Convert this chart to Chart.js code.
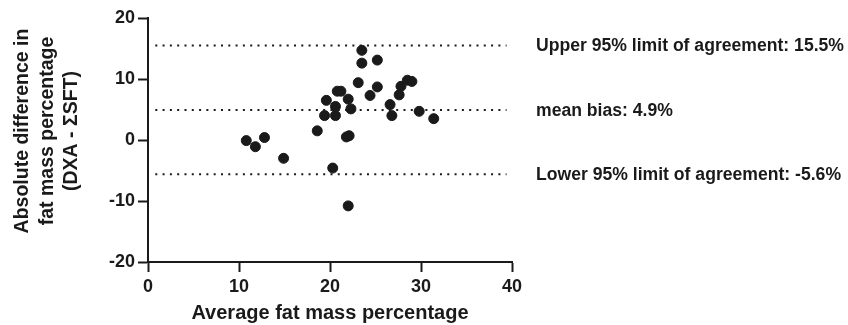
<!DOCTYPE html>
<html>
<head>
<meta charset="utf-8">
<script src="https://cdn.jsdelivr.net/npm/chart.js@4"></script>
<style>
  html, body { margin: 0; padding: 0; background: #fff; }
  #wrap { width: 848px; height: 325px; }
</style>
</head>
<body>
<div id="wrap"><canvas id="bland" width="848" height="325"></canvas></div>
<script>
// Bland-Altman data
const avgFat = [10.8, 11.8, 12.8, 14.9, 18.6, 19.6, 19.4, 20.3, 20.6, 20.6, 20.8, 21.2, 22.0, 22.3, 21.8, 22.1,
                22.0, 23.1, 23.5, 23.5, 24.4, 25.2, 25.2, 26.6, 26.8, 27.6, 27.8, 28.5, 29.0, 29.8, 31.4];
const diffFat = [-0.1, -1.1, 0.4, -3.0, 1.5, 6.5, 4.0, -4.6, 4.0, 5.5, 8.0, 8.0, 6.7, 5.1, 0.5, 0.7,
                 -10.8, 9.4, 14.7, 12.6, 7.3, 13.1, 8.7, 5.8, 4.0, 7.4, 8.8, 9.8, 9.6, 4.7, 3.5];

// agreement lines
const limitValues = [15.5, 4.9, -5.6];
const limitLabels = ["Upper 95% limit of agreement: 15.5%", "mean bias: 4.9%", "Lower 95% limit of agreement: -5.6%"];
const limitSpan = [0.8, 39.4];

const xTitle = "Average fat mass percentage";
const yTitle = ["Absolute difference in", "fat mass percentage", "(DXA - \u03A3SFT)"];

const FONT = "'Liberation Sans', Arial, sans-serif";
const INK = "#1a1a1a";

// line datasets for the dotted limits
const limitSets = limitValues.map(v => ({
    type: "line",
    data: limitSpan.map(x => ({ x: x, y: v })),
    borderColor: INK,
    borderWidth: 2,
    borderDash: [2, 5.3],
    pointRadius: 0,
    fill: false
}));

// limit labels next to the plot + the y title (sits a bit above centre in the original)
const extraText = {
    id: "extraText",
    afterDraw(chart) {
        const c = chart.ctx;
        const ys = chart.scales.y;
        const area = chart.chartArea;
        c.save();
        c.fillStyle = INK;
        c.textBaseline = "middle";
        c.font = "bold 17.6px " + FONT;
        limitValues.forEach((v, i) => {
            c.fillText(limitLabels[i], area.right + 24, ys.getPixelForValue(v) + 1);
        });

        c.font = "bold 19.5px " + FONT;
        c.textAlign = "center";
        c.translate(23, (area.top + area.bottom) / 2 - 9);
        c.rotate(-Math.PI / 2);
        yTitle.forEach((line, i) => c.fillText(line, 0, i * 24.5));
        c.restore();
    }
};

new Chart(document.getElementById("bland"), {
    type: "scatter",
    data: {
        datasets: [{
            data: avgFat.map((x, i) => ({ x: x, y: diffFat[i] })),
            backgroundColor: INK,
            borderColor: INK,
            pointRadius: 5,
            pointHoverRadius: 5
        }].concat(limitSets)
    },
    options: {
        responsive: false,
        animation: false,
        events: [],
        layout: { padding: { top: 18, right: 336, left: 0, bottom: 0 } },
        plugins: { legend: { display: false }, tooltip: { enabled: false } },
        scales: {
            x: {
                type: "linear",
                min: 0, max: 40,
                ticks: { stepSize: 10, color: INK, font: { family: FONT, size: 18, weight: "bold" }, padding: 4 },
                grid: { drawOnChartArea: false, drawTicks: true, tickLength: 10, tickColor: INK, tickWidth: 2 },
                border: { color: INK, width: 2 },
                title: { display: true, text: xTitle, color: INK, font: { family: FONT, size: 20, weight: "bold" }, padding: { top: 4, bottom: 0 } },
                afterFit(s) { s.height = 63; }
            },
            y: {
                min: -20, max: 20,
                ticks: { stepSize: 10, color: INK, font: { family: FONT, size: 18, weight: "bold" }, padding: 3 },
                grid: { drawOnChartArea: false, drawTicks: true, tickLength: 10, tickColor: INK, tickWidth: 2 },
                border: { color: INK, width: 2 },
                afterFit(s) { s.width = 148; }
            }
        }
    },
    plugins: [extraText]
});
</script>
</body>
</html>
